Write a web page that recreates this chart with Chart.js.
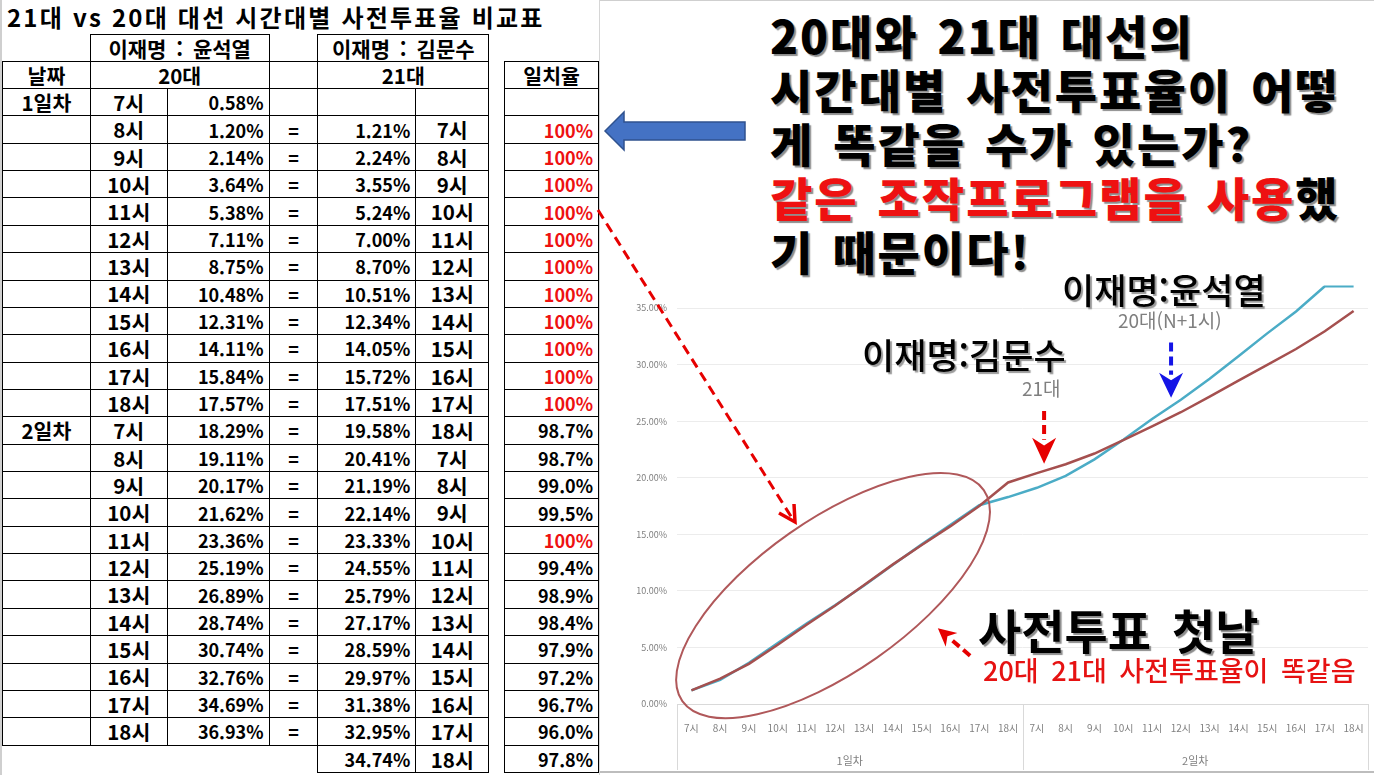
<!DOCTYPE html>
<html lang="ko">
<head>
<meta charset="utf-8">
<title>21대 vs 20대 대선 시간대별 사전투표율 비교표</title>
<script src="https://cdn.jsdelivr.net/npm/chart.js@4.4.1/dist/chart.umd.min.js"></script>
<style>
    html, body { margin: 0; padding: 0; background: #fff; }
    body { width: 1374px; height: 775px; position: relative; overflow: hidden;
           font-family: "Noto Sans CJK KR", "Noto Sans", sans-serif; color: #000; }
    #left { position: absolute; left: 0; top: 0; width: 600px; height: 775px;
            border-left: 2px solid #cfcfcf; border-right: 1px solid #d6d6d6; box-sizing: border-box; }
    #title { position: absolute; left: 5px; top: 1px; font-size: 24px; font-weight: 700;
             letter-spacing: 2.2px; line-height: 32px; white-space: nowrap; }
    #votes { position: absolute; left: 0; top: 34px; border-collapse: collapse; table-layout: fixed; }
    #votes td { padding: 0 5px; font-size: 18px; font-weight: 700; white-space: nowrap;
                line-height: 1; text-align: center; }
    #votes td.k { font-size: 20.5px; }
    #votes td.hd { font-size: 21px; word-spacing: 4px; }
    #votes tr.h { height: 27px; }
    #votes tr.d { height: 27.36px; }
    #votes td.b { border: 1.5px solid #000; }
    #votes td.r { text-align: right; }
    #votes td.hit { color: #ee1111; }
    #rightTop { position: absolute; left: 600px; top: 0; width: 774px; height: 1px; background: #cfcfcf; }
    #headline { position: absolute; left: 770px; top: 7px; font-size: 46px; font-weight: 900;
                line-height: 54px; letter-spacing: 2px; word-spacing: 4px; white-space: nowrap;
                text-shadow: 2px 2px 1px #8c8c8c; }
    #headline .red { color: #ee1111; }
    #chartBox { position: absolute; left: 600px; top: 270px; width: 774px; height: 500px; }
    #chartBottom { position: absolute; left: 600px; top: 771px; width: 774px; height: 2px; background: #bdbdbd; }
    .note { position: absolute; white-space: nowrap; line-height: 1; }
    .who { font-size: 35px; font-weight: 500; text-shadow: 2px 2px 1px #9a9a9a; }
    .era { font-size: 19px; color: #7f7f7f; }
    #first { font-size: 47px; font-weight: 700; word-spacing: 8px; text-shadow: 2px 2px 1px #8c8c8c; }
    #same { font-size: 27px; font-weight: 500; color: #e61212; word-spacing: 5px; }
    svg#shapes { position: absolute; left: 0; top: 0; pointer-events: none; }
</style>
</head>
<body>

<div id="left">
    <div id="title">21대 vs 20대 대선 시간대별 사전투표율 비교표</div>
    <table id="votes">
        <colgroup>
            <col style="width:88px"><col style="width:77px"><col style="width:102px"><col style="width:49px">
            <col style="width:98px"><col style="width:73px"><col style="width:16px"><col style="width:94px">
        </colgroup>
        <tbody id="rows"></tbody>
    </table>
</div>

<div id="rightTop"></div>
<div id="headline">
    <div>20대와 21대 대선의</div>
    <div>시간대별 사전투표율이 어떻</div>
    <div>게 똑같을 수가 있는가?</div>
    <div><span class="red">같은 조작프로그램을 사용</span>했</div>
    <div>기 때문이다!</div>
</div>

<div id="chartBox"><canvas id="turnoutChart" width="774" height="500"></canvas></div>
<div id="chartBottom"></div>

<div class="note who" style="left:1062px; top:271px;">이재명:윤석열</div>
<div class="note era" style="left:1118px; top:310px;">20대(N+1시)</div>
<div class="note who" style="left:862px; top:336px;">이재명:김문수</div>
<div class="note era" style="left:1022px; top:378px;">21대</div>
<div class="note" id="first" style="left:978px; top:605px;">사전투표 첫날</div>
<div class="note" id="same" style="left:983px; top:656px;">20대 21대 사전투표율이 똑같음</div>

<svg id="shapes" width="1374" height="775">
    <polygon points="605,131 624,112 624,122 745,122 745,140 624,140 624,150"
             fill="#4472c4" stroke="#2f528f" stroke-width="1.5"/>
    <line x1="598" y1="210" x2="792" y2="518" stroke="#e60000" stroke-width="3" stroke-dasharray="10 6"/>
    <path d="M779,513 L795,522 L794,504" fill="none" stroke="#e60000" stroke-width="3.5" stroke-linejoin="miter"/>
</svg>

<script>
// table data
const tableHours = ['7시', '8시', '9시', '10시', '11시', '12시', '13시', '14시', '15시', '16시', '17시', '18시'];
const tableDays = ['1일차', '2일차'];
const turnout20 = [0.58, 1.20, 2.14, 3.64, 5.38, 7.11, 8.75, 10.48, 12.31, 14.11, 15.84, 17.57,
                   18.29, 19.11, 20.17, 21.62, 23.36, 25.19, 26.89, 28.74, 30.74, 32.76, 34.69, 36.93];
const turnout21 = [1.21, 2.24, 3.55, 5.24, 7.00, 8.70, 10.51, 12.34, 14.05, 15.72, 17.51, 19.58,
                   20.41, 21.19, 22.14, 23.33, 24.55, 25.79, 27.17, 28.59, 29.97, 31.38, 32.95, 34.74];
const matchRate = ['100%', '100%', '100%', '100%', '100%', '100%', '100%', '100%', '100%', '100%', '100%', '98.7%',
                   '98.7%', '99.0%', '99.5%', '100%', '99.4%', '98.9%', '98.4%', '97.9%', '97.2%', '96.7%', '96.0%', '97.8%'];

// chart data
const hourLabels = ['7시', '8시', '9시', '10시', '11시', '12시', '13시', '14시', '15시', '16시', '17시', '18시',
                    '7시', '8시', '9시', '10시', '11시', '12시', '13시', '14시', '15시', '16시', '17시', '18시'];
const dayLabels = ['1일차', '2일차'];
const shifted20 = [1.20, 2.14, 3.64, 5.38, 7.11, 8.75, 10.48, 12.31, 14.11, 15.84, 17.57, 18.29,
                   19.11, 20.17, 21.62, 23.36, 25.19, 26.89, 28.74, 30.74, 32.76, 34.69, 36.93, 36.93];

// annotations, in (category index, percent) units
const ellipseNote = { at: [4.92, 9.58], rx: 184, ry: 76, angle: -35 };
const arrowNotes = [
    { from: [12.25, 25.9], to: [12.25, 21.24], color: '#e60000', head: 26, half: 12 },
    { from: [16.66, 31.95], to: [16.66, 27.08], color: '#1414e6', head: 25, half: 12 },
    { from: [9.68, 4.27], to: [8.56, 6.70], color: '#e60000', head: 18, half: 9 }
];

function pct(v) { return v.toFixed(2) + '%'; }

function buildTable() {
    const tbody = document.getElementById('rows');
    let html = '';
    html += '<tr class="h"><td></td><td class="b hd" colspan="2">이재명 : 윤석열</td><td></td>' +
            '<td class="b hd" colspan="2">이재명 : 김문수</td><td></td><td></td></tr>';
    html += '<tr class="h"><td class="b k">날짜</td><td class="b k" colspan="2">20대</td><td class="b"></td>' +
            '<td class="b k" colspan="2">21대</td><td></td><td class="b k">일치율</td></tr>';

    for (let i = 0; i < turnout20.length; i++) {
        const day = i % 12 === 0 ? tableDays[i / 12] : '';
        const hour = tableHours[i % 12];
        let cells = '<td class="b k">' + day + '</td><td class="b k">' + hour + '</td>' +
                    '<td class="b r">' + pct(turnout20[i]) + '</td>';
        if (i === 0) {
            cells += '<td class="b"></td><td class="b"></td><td class="b"></td><td></td><td class="b"></td>';
        } else {
            const rate = matchRate[i - 1];
            cells += '<td class="b">=</td><td class="b r">' + pct(turnout21[i - 1]) + '</td>' +
                     '<td class="b k">' + tableHours[(i - 1) % 12] + '</td><td></td>' +
                     '<td class="b r' + (rate === '100%' ? ' hit' : '') + '">' + rate + '</td>';
        }
        html += '<tr class="d">' + cells + '</tr>';
    }

    const last = turnout21.length - 1;
    html += '<tr class="d"><td></td><td></td><td></td><td></td>' +
            '<td class="b r">' + pct(turnout21[last]) + '</td><td class="b k">' + tableHours[last % 12] + '</td>' +
            '<td></td><td class="b r">' + matchRate[last] + '</td></tr>';
    tbody.innerHTML = html;
}

buildTable();

function drawArrow(ctx, x1, y1, x2, y2, color, head, half) {
    const dx = x2 - x1, dy = y2 - y1;
    const len = Math.sqrt(dx * dx + dy * dy);
    const ux = dx / len, uy = dy / len;
    const bx = x2 - ux * head, by = y2 - uy * head;
    ctx.save();
    ctx.strokeStyle = color;
    ctx.fillStyle = color;
    ctx.lineWidth = 4;
    ctx.setLineDash([9, 5]);
    ctx.beginPath();
    ctx.moveTo(x1, y1);
    ctx.lineTo(bx + ux * 2, by + uy * 2);
    ctx.stroke();
    ctx.setLineDash([]);
    ctx.beginPath();
    ctx.moveTo(x2, y2);
    ctx.lineTo(bx - uy * half, by + ux * half);
    ctx.lineTo(bx + ux * head * 0.3, by + uy * head * 0.3);
    ctx.lineTo(bx + uy * half, by - ux * half);
    ctx.closePath();
    ctx.fill();
    ctx.restore();
}

const notesPlugin = {
    id: 'notes',
    afterDraw(chart) {
        const ctx = chart.ctx;
        const x = chart.scales.x, y = chart.scales.y, x2 = chart.scales.x2;
        const step = x.getPixelForValue(1) - x.getPixelForValue(0);

        // group dividers under the axis
        ctx.save();
        ctx.strokeStyle = '#d9d9d9';
        ctx.lineWidth = 1;
        [0, 12, 24].forEach(i => {
            const px = Math.round(x.getPixelForValue(i) - step / 2) + 0.5;
            ctx.beginPath();
            ctx.moveTo(px, chart.chartArea.bottom);
            ctx.lineTo(px, x2.bottom);
            ctx.stroke();
        });
        ctx.restore();

        // ellipse around day one
        ctx.save();
        ctx.strokeStyle = '#b0585a';
        ctx.lineWidth = 2;
        ctx.beginPath();
        ctx.ellipse(x.getPixelForValue(ellipseNote.at[0]), y.getPixelForValue(ellipseNote.at[1]),
                    ellipseNote.rx, ellipseNote.ry, ellipseNote.angle * Math.PI / 180, 0, Math.PI * 2);
        ctx.stroke();
        ctx.restore();

        arrowNotes.forEach(a => {
            drawArrow(ctx,
                x.getPixelForValue(a.from[0]), y.getPixelForValue(a.from[1]),
                x.getPixelForValue(a.to[0]), y.getPixelForValue(a.to[1]),
                a.color, a.head, a.half);
        });
    }
};

const tickFont = { family: '"Noto Sans CJK KR", "Noto Sans", sans-serif', size: 10 };

new Chart(document.getElementById('turnoutChart'), {
    type: 'line',
    data: {
        labels: hourLabels,
        datasets: [{
            label: '21대',
            data: turnout21,
            borderColor: '#a5504f',
            borderWidth: 2.5,
            pointRadius: 0,
            tension: 0
        }, {
            label: '20대(N+1시)',
            data: shifted20,
            borderColor: '#4bacc6',
            borderWidth: 2.5,
            pointRadius: 0,
            tension: 0
        }]
    },
    options: {
        responsive: false,
        animation: false,
        layout: { padding: { top: 9, right: 6, left: 0, bottom: 0 } },
        plugins: { legend: { display: false }, tooltip: { enabled: false } },
        scales: {
            x: {
                offset: true,
                grid: { display: false },
                border: { display: true, color: '#d9d9d9' },
                ticks: { color: '#808080', font: tickFont, padding: 10, maxRotation: 0, autoSkip: false },
                afterFit: s => { s.height = 34; }
            },
            x2: {
                type: 'category',
                labels: dayLabels,
                position: 'bottom',
                offset: true,
                grid: { display: false },
                border: { display: false },
                ticks: { color: '#808080', font: { family: tickFont.family, size: 11 }, padding: 8 },
                afterFit: s => { s.height = 32; }
            },
            y: {
                min: 0,
                max: 37,
                grid: { color: '#ececec', drawTicks: false },
                border: { display: false },
                ticks: {
                    stepSize: 5,
                    padding: 10,
                    color: '#808080',
                    font: { family: tickFont.family, size: 9 },
                    callback: v => v.toFixed(2) + '%'
                },
                afterBuildTicks: s => { s.ticks = s.ticks.filter(t => t.value % 5 === 0); },
                afterFit: s => { s.width = 77; }
            }
        }
    },
    plugins: [notesPlugin]
});
</script>
</body>
</html>
